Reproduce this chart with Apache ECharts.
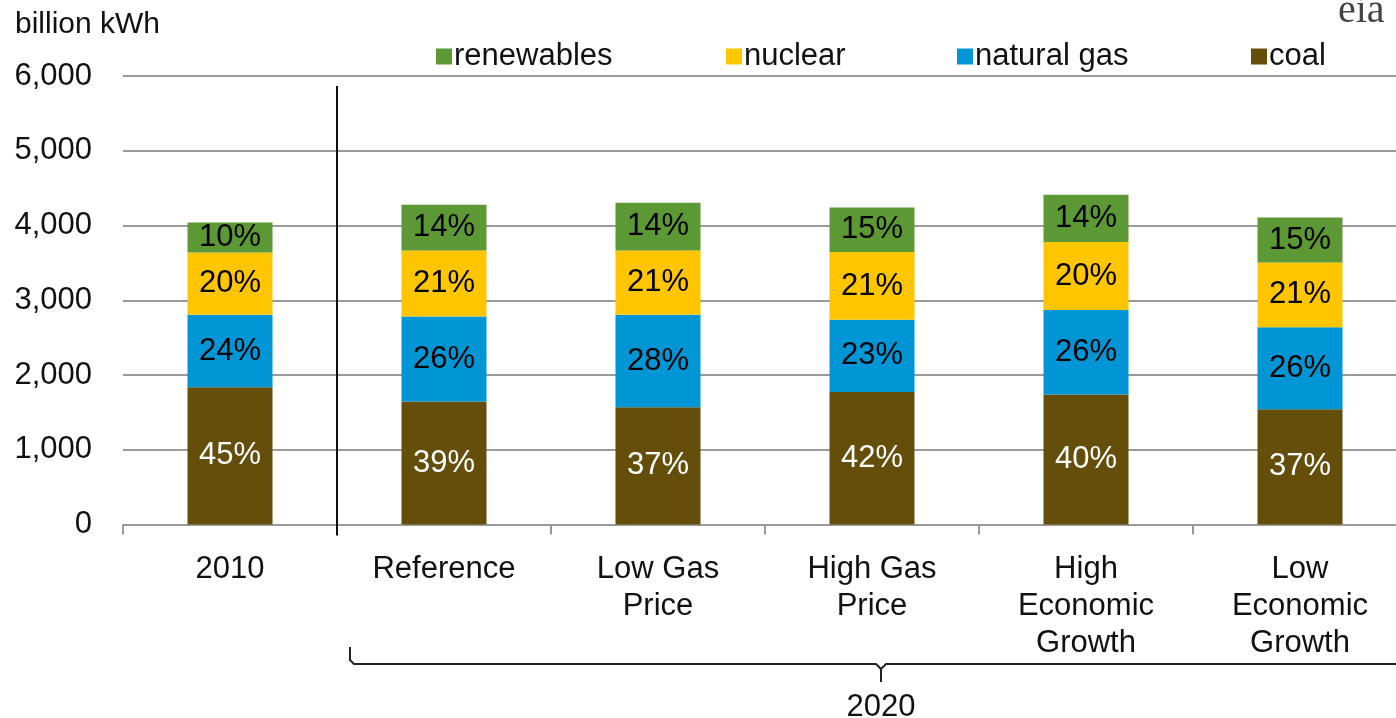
<!DOCTYPE html>
<html>
<head>
<meta charset="utf-8">
<title>Electricity generation by fuel</title>
<script src="https://cdn.jsdelivr.net/npm/echarts@6/dist/echarts.min.js"></script>
<style>
  html, body { margin: 0; padding: 0; background: #fff; }
  #main { width: 1396px; height: 718px; }
</style>
</head>
<body>
<div id="main"></div>
<script>
// categories and values (billion kWh)
var categories = ['2010', 'Reference', 'Low Gas\nPrice', 'High Gas\nPrice', 'High\nEconomic\nGrowth', 'Low\nEconomic\nGrowth'];
var coal       = [1837, 1644, 1569, 1774, 1738, 1542];
var naturalGas = [968, 1138, 1236, 964, 1133, 1098];
var nuclear    = [834, 883, 860, 906, 907, 865];
var renewables = [400, 612, 639, 597, 633, 602];

// share labels as printed on the bars
var coalPct       = [45, 39, 37, 42, 40, 37];
var naturalGasPct = [24, 26, 28, 23, 26, 26];
var nuclearPct    = [20, 21, 21, 21, 20, 21];
var renewablesPct = [10, 14, 14, 15, 14, 15];

var yTicks = [0, 1000, 2000, 3000, 4000, 5000, 6000];

var FONT = 'Liberation Sans, Arial, sans-serif';
var TXT = '#111';

var myChart = echarts.init(document.getElementById('main'));

function pctLabel(arr, color) {
	return {
		show: true,
		position: 'inside',
		color: color,
		fontFamily: FONT,
		fontSize: 31,
		formatter: function (p) { return arr[p.dataIndex] + '%'; }
	};
}

function legendAt(name, left) {
	return {
		data: [name],
		left: left,
		top: 41,
		padding: 0,
		itemWidth: 16,
		itemHeight: 16,
		icon: 'rect',
		textStyle: { fontFamily: FONT, fontSize: 31, color: TXT, padding: [0, 0, 0, -3] }
	};
}

var option = {
	animation: false,
	backgroundColor: '#fff',
	legend: [
		legendAt('renewables', 436),
		legendAt('nuclear', 726),
		legendAt('natural gas', 957),
		legendAt('coal', 1251)
	],
	grid: {
		left: 123,
		top: 76,
		width: 1284,
		height: 448.5,
		containLabel: false,
		outerBoundsMode: 'none'
	},
	xAxis: {
		type: 'category',
		data: categories,
		boundaryGap: true,
		axisLine: { lineStyle: { color: '#9a9a9a', width: 2 } },
		axisTick: { show: true, length: 10, lineStyle: { color: '#9a9a9a', width: 2 } },
		axisLabel: {
			interval: 0,
			margin: 26,
			fontFamily: FONT,
			fontSize: 31,
			lineHeight: 37,
			color: TXT
		}
	},
	yAxis: {
		type: 'value',
		min: yTicks[0],
		max: yTicks[yTicks.length - 1],
		interval: 1000,
		axisLine: { show: false },
		axisTick: { show: false },
		splitLine: { lineStyle: { color: '#9a9a9a', width: 2 } },
		axisLabel: {
			margin: 31,
			fontFamily: FONT,
			fontSize: 31,
			color: TXT,
			formatter: function (v) { return v.toLocaleString('en-US'); }
		}
	},
	series: [
		{ name: 'coal', type: 'bar', stack: 'gen', barWidth: 85, data: coal,
		  itemStyle: { color: '#654E0A' }, label: pctLabel(coalPct, '#fff') },
		{ name: 'natural gas', type: 'bar', stack: 'gen', barWidth: 85, data: naturalGas,
		  itemStyle: { color: '#0096D6' }, label: pctLabel(naturalGasPct, '#000') },
		{ name: 'nuclear', type: 'bar', stack: 'gen', barWidth: 85, data: nuclear,
		  itemStyle: { color: '#FFC600' }, label: pctLabel(nuclearPct, '#000') },
		{ name: 'renewables', type: 'bar', stack: 'gen', barWidth: 85, data: renewables,
		  itemStyle: { color: '#5C9834' }, label: pctLabel(renewablesPct, '#000') }
	]
};

myChart.setOption(option);

// divider between 2010 and the 2020 cases, bracket and annotations
var c0 = myChart.convertToPixel({ xAxisIndex: 0 }, 0);
var c1 = myChart.convertToPixel({ xAxisIndex: 0 }, 1);
var step = c1 - c0;
var divX = (c0 + c1) / 2;
var y0 = myChart.convertToPixel({ yAxisIndex: 0 }, 0);
var yTop = myChart.convertToPixel({ yAxisIndex: 0 }, 6000);
var brLeft = divX + 13;
var brRight = divX + 5 * step + 5;
var brMid = (brLeft + brRight) / 2;
var brY = 664;

myChart.setOption({
	graphic: [
		{ type: 'line', shape: { x1: divX, y1: yTop + 10, x2: divX, y2: y0 + 11 },
		  style: { stroke: '#111', lineWidth: 2 }, z: 10 },
		{ type: 'polyline', shape: { points: [[brLeft, brY - 17], [brLeft, brY - 4], [brLeft + 4, brY], [brMid - 5, brY], [brMid, brY + 5], [brMid, brY + 18]] },
		  style: { stroke: '#222', lineWidth: 2, fill: null } },
		{ type: 'polyline', shape: { points: [[brMid, brY + 5], [brMid + 5, brY], [brRight, brY]] },
		  style: { stroke: '#222', lineWidth: 2, fill: null } },
		{ type: 'text', style: { text: '2020', x: brMid, y: 707, align: 'center', verticalAlign: 'middle',
		  font: '31px ' + FONT, fill: TXT } },
		{ type: 'text', style: { text: 'billion kWh', x: 15, y: 25, align: 'left', verticalAlign: 'middle',
		  font: '30px ' + FONT, fill: TXT } },
		{ type: 'text', style: { text: 'eia', x: 1338, y: 31, align: 'left', verticalAlign: 'bottom',
		  font: '40px "Liberation Serif", "DejaVu Serif", serif', fill: '#444' } }
	]
});
</script>
</body>
</html>
